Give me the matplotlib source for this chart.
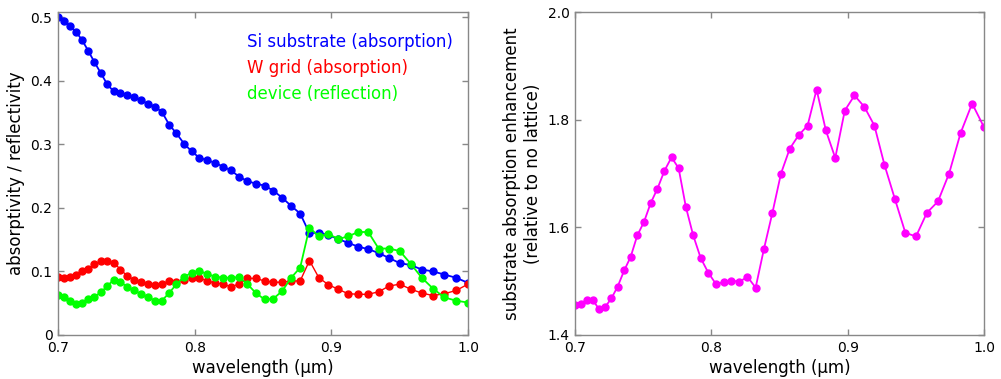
import matplotlib
matplotlib.use("Agg")
import matplotlib.pyplot as plt

plt.rcParams['font.family'] = ['DejaVu Sans']

# wavelengths (µm)
wavelength = [0.7000, 0.7043, 0.7087, 0.7131, 0.7176, 0.7221, 0.7267, 0.7313, 0.7361, 0.7408,
              0.7457, 0.7506, 0.7555, 0.7605, 0.7656, 0.7708, 0.7760, 0.7813, 0.7867, 0.7922,
              0.7977, 0.8033, 0.8090, 0.8147, 0.8206, 0.8265, 0.8325, 0.8386, 0.8448, 0.8511,
              0.8575, 0.8640, 0.8706, 0.8772, 0.8840, 0.8909, 0.8979, 0.9050, 0.9122, 0.9196,
              0.9270, 0.9346, 0.9423, 0.9501, 0.9581, 0.9662, 0.9744, 0.9828, 0.9913, 1.0000]

si_absorption = [0.500, 0.494, 0.486, 0.477, 0.464, 0.447, 0.429, 0.412, 0.394, 0.383,
                 0.381, 0.378, 0.375, 0.369, 0.364, 0.359, 0.351, 0.331, 0.317, 0.301,
                 0.289, 0.279, 0.275, 0.271, 0.265, 0.259, 0.249, 0.242, 0.238, 0.235,
                 0.227, 0.216, 0.203, 0.191, 0.160, 0.161, 0.157, 0.151, 0.145, 0.139,
                 0.135, 0.129, 0.121, 0.113, 0.110, 0.103, 0.100, 0.095, 0.090, 0.082]

w_absorption = [0.091, 0.090, 0.092, 0.095, 0.100, 0.104, 0.111, 0.116, 0.117, 0.114,
                0.103, 0.093, 0.087, 0.084, 0.080, 0.078, 0.080, 0.085, 0.084, 0.087,
                0.090, 0.090, 0.085, 0.082, 0.080, 0.076, 0.080, 0.089, 0.089, 0.085,
                0.083, 0.083, 0.085, 0.085, 0.117, 0.090, 0.079, 0.072, 0.065, 0.064,
                0.064, 0.068, 0.077, 0.080, 0.072, 0.066, 0.062, 0.065, 0.070, 0.080]

device_reflection = [0.063, 0.059, 0.054, 0.048, 0.050, 0.057, 0.060, 0.067, 0.077, 0.087,
                     0.083, 0.076, 0.070, 0.065, 0.060, 0.054, 0.054, 0.066, 0.080, 0.091,
                     0.098, 0.101, 0.096, 0.092, 0.090, 0.090, 0.091, 0.080, 0.066, 0.056,
                     0.057, 0.069, 0.090, 0.106, 0.169, 0.155, 0.159, 0.151, 0.155, 0.162,
                     0.162, 0.136, 0.136, 0.132, 0.112, 0.090, 0.073, 0.059, 0.054, 0.051]

enhancement = [1.455, 1.458, 1.465, 1.465, 1.448, 1.452, 1.468, 1.490, 1.520, 1.545,
               1.585, 1.610, 1.645, 1.672, 1.705, 1.730, 1.710, 1.638, 1.585, 1.543,
               1.516, 1.495, 1.498, 1.501, 1.499, 1.508, 1.488, 1.560, 1.627, 1.700,
               1.746, 1.771, 1.789, 1.856, 1.780, 1.729, 1.817, 1.845, 1.824, 1.789,
               1.716, 1.653, 1.590, 1.583, 1.627, 1.648, 1.700, 1.775, 1.830, 1.786]

x_ticks = [0.7, 0.8, 0.9, 1.0]
x_ticklabels = ['0.7', '0.8', '0.9', '1.0']
left_yticks = [0, 0.1, 0.2, 0.3, 0.4, 0.5]
left_yticklabels = ['0', '0.1', '0.2', '0.3', '0.4', '0.5']
right_yticks = [1.4, 1.6, 1.8, 2.0]
right_yticklabels = ['1.4', '1.6', '1.8', '2.0']

W, H = 1001, 379
fig = plt.figure(figsize=(W / 100, H / 100), dpi=100)
ax1 = fig.add_axes([58 / W, (H - 335) / H, 410 / W, 323 / H])
ax2 = fig.add_axes([575 / W, (H - 335) / H, 409 / W, 323 / H])

spine_col = '#888888'
for ax in (ax1, ax2):
    for s in ax.spines.values():
        s.set_color(spine_col)
        s.set_linewidth(1.0)
    ax.tick_params(direction='in', top=True, right=True, length=4, width=1,
                   color=spine_col, labelsize=10, pad=4)
    ax.set_xlim(0.7, 1.0)
    ax.set_xticks(x_ticks)
    ax.set_xticklabels(x_ticklabels)
    ax.set_xlabel('wavelength (µm)', fontsize=12, labelpad=3)

ms = 5
ax1.plot(wavelength, si_absorption, '-o', color='#0000ff', lw=1.3, ms=ms, mec='#0000ff')
ax1.plot(wavelength, w_absorption, '-o', color='#ff0000', lw=1.0, ms=ms, mec='#ff0000')
ax1.plot(wavelength, device_reflection, '-o', color='#00ff00', lw=1.3, ms=ms, mec='#00ff00')
ax1.set_ylim(0, 0.508)
ax1.set_yticks(left_yticks)
ax1.set_yticklabels(left_yticklabels)
ax1.set_ylabel('absorptivity / reflectivity', fontsize=12, labelpad=4)

ax1.text(0.461, 0.907, 'Si substrate (absorption)', color='#0000ff', fontsize=12,
         transform=ax1.transAxes, ha='left', va='center')
ax1.text(0.461, 0.827, 'W grid (absorption)', color='#ff0000', fontsize=12,
         transform=ax1.transAxes, ha='left', va='center')
ax1.text(0.461, 0.745, 'device (reflection)', color='#00ff00', fontsize=12,
         transform=ax1.transAxes, ha='left', va='center')

ax2.plot(wavelength, enhancement, '-o', color='#ff00ff', lw=1.3, ms=ms, mec='#ff00ff')
ax2.set_ylim(1.4, 2.0)
ax2.set_yticks(right_yticks)
ax2.set_yticklabels(right_yticklabels)
ax2.set_ylabel('substrate absorption enhancement\n(relative to no lattice)', fontsize=12,
               labelpad=4)

fig.savefig('out.png', dpi=100)
